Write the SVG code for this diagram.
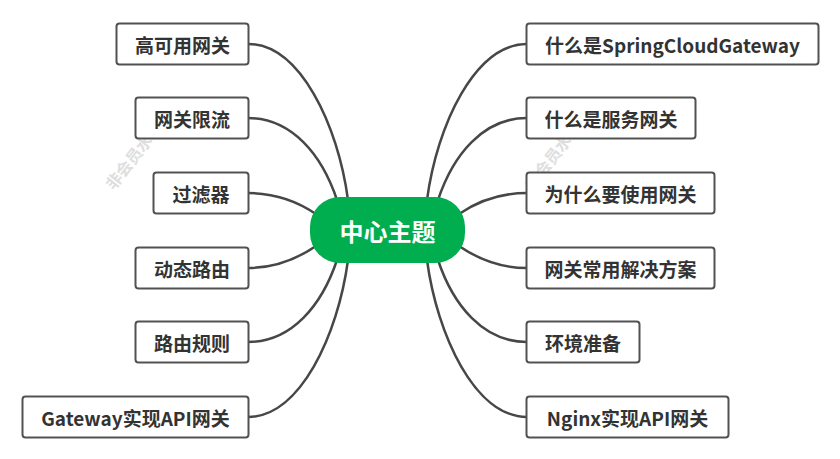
<svg xmlns="http://www.w3.org/2000/svg" width="840" height="459" viewBox="0 0 840 459">
<style>
.bg{fill:#ffffff}
.wm{font-family:"Noto Sans CJK SC","Liberation Sans",sans-serif;font-size:16px;fill:#dedede;font-weight:bold}
.link{fill:none;stroke:#474747;stroke-width:2.5;stroke-linecap:round}
.box{fill:#ffffff;stroke:#525252;stroke-width:2}
.lbl{font-family:"Noto Sans CJK SC","Microsoft YaHei",sans-serif;font-size:19px;font-weight:bold;fill:#333333;text-anchor:middle;dominant-baseline:central}
.root{fill:#00ae4f}
.rootlbl{font-family:"Noto Sans CJK SC",sans-serif;font-size:24px;font-weight:bold;fill:#ffffff;text-anchor:middle;dominant-baseline:central}
</style>
<rect class="bg" x="0" y="0" width="840" height="459"/>
<g id="watermarks">
<text class="wm" transform="translate(114,191) rotate(-52)">非会员水印</text>
<text class="wm" transform="translate(533,191) rotate(-52)">非会员水印</text>
</g>
<g id="connectors">
<path class="link" d="M248,44 C300,44 338,125 348,200"/>
<path class="link" d="M248,118 C292,118 322,155 337,200"/>
<path class="link" d="M248,193 C275,193 297,201 316,214"/>
<path class="link" d="M248,268 C275,268 297,259 316,246"/>
<path class="link" d="M248,342 C292,342 322,305 337,260"/>
<path class="link" d="M248,417 C300,417 338,335 348,260"/>
<path class="link" d="M527,44 C475,44 437,125 427,200"/>
<path class="link" d="M527,118 C483,118 453,155 438,200"/>
<path class="link" d="M527,193 C500,193 478,201 459,214"/>
<path class="link" d="M527,268 C500,268 478,259 459,246"/>
<path class="link" d="M527,342 C483,342 453,305 438,260"/>
<path class="link" d="M527,417 C475,417 437,335 427,260"/>
</g>
<g id="root">
<rect class="root" x="310" y="197" width="155" height="66" rx="30" ry="30"/>
<text class="rootlbl" x="387.5" y="230">中心主题</text>
</g>
<g id="n-gaokeyong">
<rect class="box" x="116.5" y="23.5" width="132" height="41" rx="3"/>
<text class="lbl" x="182.5" y="44">高可用网关</text>
</g>
<g id="n-xianliu">
<rect class="box" x="135.5" y="97.5" width="113" height="41" rx="3"/>
<text class="lbl" x="192" y="118">网关限流</text>
</g>
<g id="n-guolvqi">
<rect class="box" x="153.5" y="172.5" width="95" height="41" rx="3"/>
<text class="lbl" x="201" y="193">过滤器</text>
</g>
<g id="n-dongtai">
<rect class="box" x="135.5" y="247.5" width="113" height="41" rx="3"/>
<text class="lbl" x="192" y="268">动态路由</text>
</g>
<g id="n-guize">
<rect class="box" x="135.5" y="321.5" width="113" height="41" rx="3"/>
<text class="lbl" x="192" y="342">路由规则</text>
</g>
<g id="n-gateway">
<rect class="box" x="22.5" y="396.5" width="226" height="41" rx="3"/>
<text class="lbl" x="135.5" y="417">Gateway实现API网关</text>
</g>
<g id="n-scg">
<rect class="box" x="526.5" y="23.5" width="292" height="41" rx="3"/>
<text class="lbl" x="672.5" y="44">什么是SpringCloudGateway</text>
</g>
<g id="n-fuwu">
<rect class="box" x="526.5" y="97.5" width="169" height="41" rx="3"/>
<text class="lbl" x="611" y="118">什么是服务网关</text>
</g>
<g id="n-weishenme">
<rect class="box" x="526.5" y="172.5" width="188" height="41" rx="3"/>
<text class="lbl" x="620.5" y="193">为什么要使用网关</text>
</g>
<g id="n-fangan">
<rect class="box" x="526.5" y="247.5" width="188" height="41" rx="3"/>
<text class="lbl" x="620.5" y="268">网关常用解决方案</text>
</g>
<g id="n-huanjing">
<rect class="box" x="526.5" y="321.5" width="113" height="41" rx="3"/>
<text class="lbl" x="583" y="342">环境准备</text>
</g>
<g id="n-nginx">
<rect class="box" x="526.5" y="396.5" width="202" height="41" rx="3"/>
<text class="lbl" x="627.5" y="417">Nginx实现API网关</text>
</g>
</svg>
